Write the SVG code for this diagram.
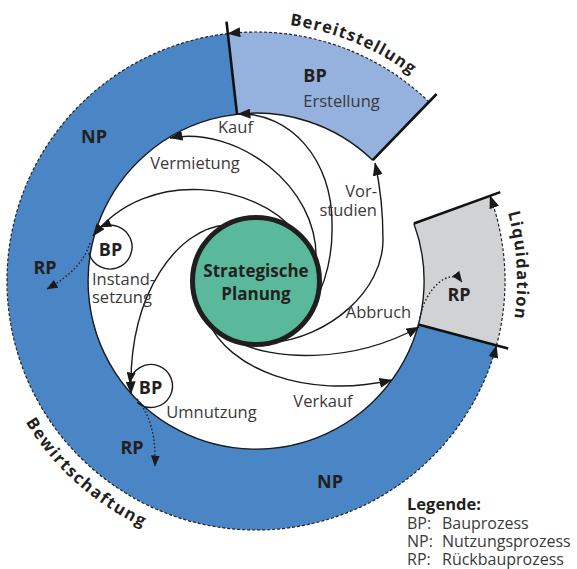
<svg xmlns="http://www.w3.org/2000/svg" width="577" height="569" viewBox="0 0 577 569">
<style>
.lbl{font-family:"Open Sans","Liberation Sans",sans-serif;font-size:16.5px;fill:#3a3a3a}
.bold{font-family:"Open Sans","Liberation Sans",sans-serif;font-weight:bold;font-size:18px;fill:#231f20}
.arc{font-family:"Open Sans","Liberation Sans",sans-serif;font-weight:bold;font-size:16.5px;fill:#231f20;letter-spacing:1.2px}
.leg{font-family:"Open Sans","Liberation Sans",sans-serif;font-size:16px;fill:#3a3a3a}
.conn{fill:none;stroke:#1a1a1a;stroke-width:1.4}
.dash{fill:none;stroke:#222;stroke-width:1.2;stroke-dasharray:3 2}
.dot{fill:none;stroke:#222;stroke-width:1.5;stroke-dasharray:1.5 2.2}
.rad{stroke:#111;stroke-width:2.6;stroke-linecap:butt}
</style>
<defs>
<marker id="ah" markerUnits="userSpaceOnUse" markerWidth="13" markerHeight="10" refX="12.5" refY="5" orient="auto"><path d="M0,0 L13,5 L0,10 z" fill="#1a1a1a"/></marker>
<marker id="ahs" markerUnits="userSpaceOnUse" markerWidth="11" markerHeight="9" refX="10.5" refY="4.5" orient="auto"><path d="M0,0 L11,4.5 L0,9 z" fill="#1a1a1a"/></marker>
<path id="pBer" d="M289.7,25.2 A258 258 0 0 1 438.4,98.6"/>
<path id="pLiq" d="M507.9,212.6 A261 261 0 0 1 508.1,348.6"/>
<path id="pBew" d="M25.5,422 A271 271 0 0 0 186.1,542.8"/>
</defs>
<rect width="577" height="569" fill="#ffffff"/>
<g id="ring">
<path d="M227.8,33.6 A249 249 0 1 0 496.5,345.4 L418.3,324.5 A168 168 0 1 1 237,114.1 Z" fill="#4a86c6"/>
<path d="M227.8,33.6 A249 249 0 0 1 429,101.9 L372.7,160.2 A168 168 0 0 0 237,114.1 Z" fill="#94b2dd"/>
<path d="M490,195.8 A249 249 0 0 1 496.5,345.4 L418.3,324.5 A168 168 0 0 0 413.9,223.5 Z" fill="#d1d2d4"/>
<path d="M372.7,160.2 A168 168 0 1 0 413.9,223.5" fill="none" stroke="#1a1a1a" stroke-width="1.4"/>
<path class="dash" d="M429,101.9 A249 249 0 0 0 227.8,33.6" marker-end="url(#ah)"/>
<path class="dash" d="M227.8,33.6 A249 249 0 1 0 496.5,345.4" marker-end="url(#ah)"/>
<path class="dash" d="M496.5,345.4 A249 249 0 0 0 490,195.8" marker-end="url(#ah)"/>
<line class="rad" x1="237" y1="114.1" x2="226.5" y2="21.7"/>
<line class="rad" x1="372.7" y1="160.2" x2="436.6" y2="94"/>
<line class="rad" x1="413.9" y1="223.5" x2="500.3" y2="192.1"/>
<line class="rad" x1="418.3" y1="324.5" x2="508.1" y2="348.5"/>
<text class="arc"><textPath href="#pBer">Bereitstellung</textPath></text>
<text class="arc"><textPath href="#pLiq">Liquidation</textPath></text>
<text class="arc" style="letter-spacing:1.6px"><textPath href="#pBew">Bewirtschaftung</textPath></text>
<text class="bold" x="94" y="143" text-anchor="middle">NP</text>
<text class="bold" x="330" y="488" text-anchor="middle">NP</text>
</g>
<g id="connectors">
<path class="conn" d="M297,328 C322,300 333,262 332,225 C333,160 290,112 238,114" marker-end="url(#ah)"/>
<path class="conn" d="M316,262 C320,185 235,125 170,138" marker-end="url(#ah)"/>
<path class="conn" d="M294,231 C258,185 148,165 93,236" marker-end="url(#ah)"/>
<path class="conn" d="M226,225 C180,228 128,290 131,394" marker-end="url(#ah)"/>
<path class="conn" d="M208,321 C228,368 305,400 392,380" marker-end="url(#ah)"/>
<path class="conn" d="M236,341 C270,360 350,365 419,327" marker-end="url(#ah)"/>
<path class="conn" d="M269,343 C330,338 383,290 383,240 C383,210 380,185 375,163" marker-end="url(#ah)"/>
<path class="dot" d="M90,243 C84,262 70,276 47,289" marker-end="url(#ahs)"/>
<path class="dot" d="M137,399 C150,415 156,435 155,466" marker-end="url(#ahs)"/>
<path class="dot" d="M420,318 C424,290 450,266 462,282" marker-end="url(#ahs)"/>
</g>
<g id="strategische-planung">
<circle cx="256" cy="281" r="63.5" fill="#5bb99b" stroke="#1f1f1f" stroke-width="5"/>
<text class="bold" x="256" y="277" text-anchor="middle" style="font-size:17px">Strategische</text>
<text class="bold" x="256" y="300" text-anchor="middle" style="font-size:17px">Planung</text>
</g>
<g id="bp-erstellung">
<text class="bold" x="315" y="82" text-anchor="middle">BP</text>
<text class="lbl" x="341.5" y="107" text-anchor="middle">Erstellung</text>
</g>
<g id="bp-instandsetzung">
<path d="M88.8,252.7 A22 22 0 1 0 100.7,227.1" fill="none" stroke="#1a1a1a" stroke-width="1.4" marker-end="url(#ahs)"/>
<text class="bold" x="110.5" y="256" text-anchor="middle">BP</text>
<text class="lbl" x="92" y="285">Instand-</text>
<text class="lbl" x="92" y="303">setzung</text>
</g>
<g id="bp-umnutzung">
<path d="M137.2,402.5 A21.5 21.5 0 1 0 129.7,383" fill="none" stroke="#1a1a1a" stroke-width="1.4" marker-end="url(#ahs)"/>
<text class="bold" x="150.5" y="394" text-anchor="middle">BP</text>
<text class="lbl" x="211.5" y="418" text-anchor="middle">Umnutzung</text>
</g>
<g id="labels">
<text class="lbl" x="235.5" y="133" text-anchor="middle">Kauf</text>
<text class="lbl" x="195" y="169" text-anchor="middle">Vermietung</text>
<text class="lbl" x="377" y="197" text-anchor="end">Vor-</text>
<text class="lbl" x="377" y="216" text-anchor="end">studien</text>
<text class="lbl" x="378.5" y="318" text-anchor="middle">Abbruch</text>
<text class="lbl" x="323" y="407" text-anchor="middle">Verkauf</text>
</g>
<g id="rp-labels">
<text class="bold" x="45" y="274" text-anchor="middle">RP</text>
<text class="bold" x="132" y="454" text-anchor="middle">RP</text>
<text class="bold" x="459" y="301" text-anchor="middle">RP</text>
</g>
<g id="legend">
<text class="leg" x="407" y="510" style="font-weight:bold;font-size:16.5px;fill:#231f20">Legende:</text>
<text class="leg" x="407" y="529">BP:</text><text class="leg" x="442" y="529">Bauprozess</text>
<text class="leg" x="407" y="547">NP:</text><text class="leg" x="442" y="547">Nutzungsprozess</text>
<text class="leg" x="407" y="565">RP:</text><text class="leg" x="442" y="565">Rückbauprozess</text>
</g>
</svg>
